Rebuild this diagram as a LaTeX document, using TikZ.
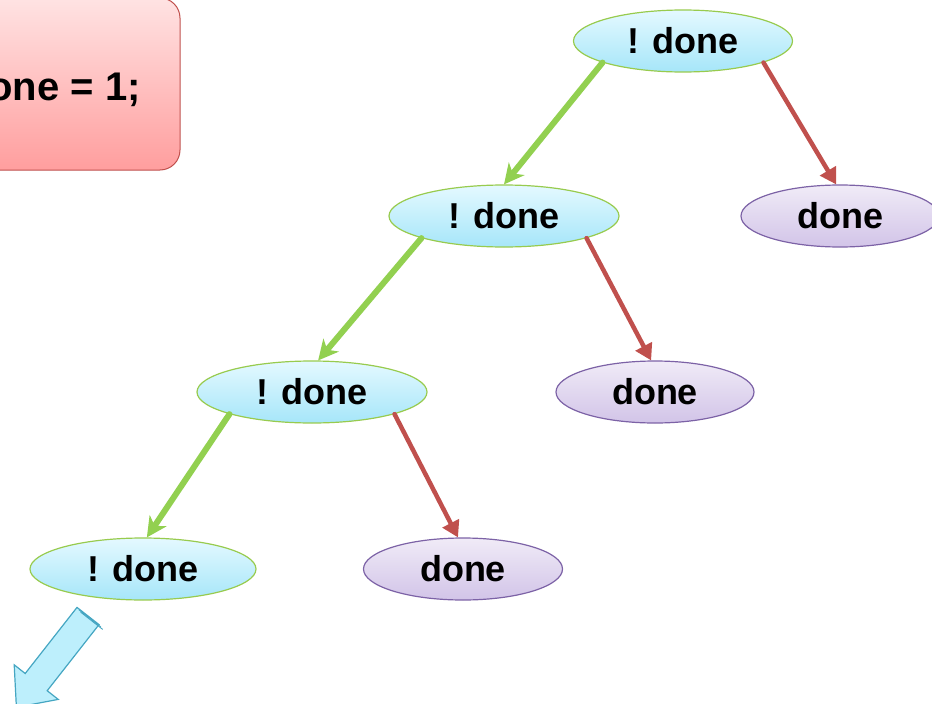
\documentclass[tikz,border=0pt]{standalone}
\usepackage{fontspec}
\setmainfont{Liberation Sans}
\usetikzlibrary{shapes.geometric,arrows.meta}

\definecolor{condTop}{HTML}{E4F9FF}
\definecolor{condBot}{HTML}{A6E6F9}
\definecolor{condLine}{HTML}{98CB4E}
\definecolor{leafTop}{HTML}{F0EBF7}
\definecolor{leafBot}{HTML}{D2C4E8}
\definecolor{leafLine}{HTML}{7C62A6}
\definecolor{boxTop}{HTML}{FFE3E3}
\definecolor{boxBot}{HTML}{FF9E9E}
\definecolor{boxLine}{HTML}{C0504D}
\definecolor{trueArrow}{HTML}{92D050}
\definecolor{falseArrow}{HTML}{C0504D}
\definecolor{flowFill}{HTML}{BDEFFC}
\definecolor{flowLine}{HTML}{45A6C2}

\tikzset{
  label font/.style={font=\fontsize{36}{40}\selectfont\bfseries},
  condnode/.style={ellipse, draw=condLine, line width=1.2pt,
    top color=condTop, bottom color=condBot,
    minimum height=62pt, inner sep=0pt, label font},
  leafnode/.style={ellipse, draw=leafLine, line width=1.2pt,
    top color=leafTop, bottom color=leafBot,
    minimum height=62pt, inner sep=0pt, label font},
  truebranch/.style={draw=trueArrow, line width=6pt, line cap=round,
    -{Stealth[length=20pt,width=20pt,inset=6pt]}},
  falsebranch/.style={draw=falseArrow, line width=4.5pt, line cap=round,
    -{Triangle[length=16pt,width=18pt]}},
  flowarrow/.style={fill=flowFill, draw=flowLine, line width=1.2pt, line join=miter},
}

\begin{document}
\begin{tikzpicture}[x=1pt,y=-1pt]
\useasboundingbox (0,0) rectangle (932,704);
\clip (0,0) rectangle (932,704);

% assignment box and its statement
\node[draw=boxLine, line width=1pt, rounded corners=20pt,
      top color=boxTop, bottom color=boxBot,
      minimum width=240pt, minimum height=172pt] (assign) at (60,84) {};
\node[font=\fontsize{40}{44}\selectfont\bfseries, anchor=base east, inner sep=0pt]
      (assigntext) at (141,100) {done = 1;};

% loop test tree
\node[condnode, minimum width=219pt] (c1) at (683,41)  {! done};
\node[condnode, minimum width=230pt] (c2) at (504,216) {! done};
\node[leafnode, minimum width=198pt] (l1) at (840,216) {done};
\node[condnode, minimum width=230pt] (c3) at (312,392) {! done};
\node[leafnode, minimum width=198pt] (l2) at (655,392) {done};
\node[condnode, minimum width=226pt] (c4) at (143,569) {! done};
\node[leafnode, minimum width=199pt] (l3) at (463,569) {done};

% branches
\draw[truebranch]  (c1.195) -- (c2.north);
\draw[falsebranch] (c1.345) -- (l1.97);
\draw[truebranch]  (c2.195) -- (c3.79);
\draw[falsebranch] (c2.345) -- (l2.97);
\draw[truebranch]  (c3.195) -- (c4.83);
\draw[falsebranch] (c3.345) -- (l3.99);

% continuation block arrow
\draw[flowarrow] (77,607.4) -- (99,624.6) -- (47.2,690.7) -- (58.2,699.4)
  -- (16.4,707.3) -- (14.2,664.8) -- (25.2,673.5) -- cycle;
\draw[flowLine, line width=0.9pt] (78.9,609.8) -- (100.9,627.0);
\draw[flowLine, line width=0.9pt] (80.7,612.2) -- (102.7,629.4);
\end{tikzpicture}
\end{document}
